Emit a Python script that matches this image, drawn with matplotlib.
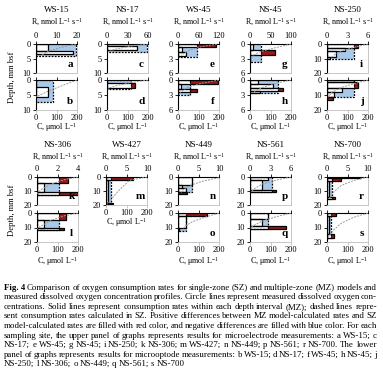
import matplotlib
matplotlib.use('Agg')
import matplotlib.pyplot as plt
from matplotlib.patches import Rectangle

plt.rcParams['font.family'] = ['Liberation Serif', 'DejaVu Serif']
plt.rcParams['mathtext.fontset'] = 'custom'
plt.rcParams['mathtext.rm'] = 'Liberation Serif'
plt.rcParams['mathtext.it'] = 'Liberation Serif:italic'

# sites and panel letters
sites = ['WS-15', 'NS-17', 'WS-45', 'NS-45', 'NS-250',
         'NS-306', 'WS-427', 'NS-449', 'NS-561', 'NS-700']
upper_keys = ['a', 'c', 'e', 'g', 'i', 'k', 'm', 'n', 'p', 'r']
lower_keys = ['b', 'd', 'f', 'h', 'j', 'l', None, 'o', 'q', 's']
r_ticks = [[0, 10, 20], [0, 30, 60], [0, 60, 120], [0, 50, 100], [0, 3, 6],
           [0, 2, 4], [0, 5, 10], [0, 5, 10], [0, 3, 6], [0, 5, 10]]
depth_ticks = [[0, 5, 10], [0, 5, 10], [0, 3, 6], [0, 3, 6], [0, 10, 20],
               [0, 10, 20], [0, 10, 20], [0, 10, 20], [0, 10, 20], [0, 10, 20]]
c_ticks = [0, 100, 200]

# MZ model: depth interval edges (mm) and rate in each interval
mz_edges = {
    'a': [0, 2.3, 3.4], 'b': [0, 2.2, 5.6],
    'c': [0, 0.6, 2.1], 'd': [0, 1.0, 2.5],
    'e': [0, 0.7, 1.6, 2.4], 'f': [0, 0.7, 1.8, 2.4],
    'g': [0, 1.3, 2.2, 3.7], 'h': [0, 0.7, 1.6, 2.2, 2.6],
    'i': [0, 3, 5, 9, 10.5], 'j': [0, 1, 5, 8, 11.5, 13.5],
    'k': [0, 4, 10.5, 12.5], 'l': [0, 5, 10.5, 12],
    'm': [0, 2, 18.5, 19.5],
    'n': [0, 6, 8, 10.5, 12], 'o': [0, 2.3, 10, 12.5],
    'p': [0, 2.3, 9.4, 11], 'q': [0, 4, 8.7, 11],
    'r': [0, 1, 3, 14, 16], 's': [0, 2.4, 14.5, 17],
}
mz_rate = {
    'a': [6, 18], 'b': [0, 6],
    'c': [0, 44], 'd': [0, 41],
    'e': [112, 12, 22], 'f': [118, 10, 55],
    'g': [8, 60, 0], 'h': [20, 55, 80, 25],
    'i': [4.5, 2.7, 1.3, 0.5], 'j': [4.0, 4.5, 2.2, 1.0, 0.9],
    'k': [3.0, 0.7, 4.0], 'l': [2.8, 0.7, 2.6],
    'm': [6.5, 0.4, 1.6],
    'n': [3.3, 1.0, 2.0, 2.1], 'o': [7.0, 2.0, 0.3],
    'p': [2.6, 1.7, 3.8], 'q': [2.6, 1.7, 5.3],
    'r': [8.3, 3.5, 0.4, 2.0], 's': [2.3, 0.5, 1.8],
}
# SZ model: single rate and depth of zone
sz_rate = {'a': 19.5, 'b': 8.5, 'c': 58, 'd': 35, 'e': 55, 'f': 35, 'g': 28, 'h': 68,
           'i': 4.0, 'j': 4.0, 'k': 2.15, 'l': 2.15, 'm': 1.1, 'n': 3.3, 'o': 2.0,
           'p': 3.2, 'q': 2.6, 'r': 1.2, 's': 1.0}
sz_depth = {'a': 4.1, 'b': 7.2, 'c': 2.9, 'd': 3.0, 'e': 2.7, 'f': 2.9, 'g': 3.7, 'h': 2.6,
            'i': 10, 'j': 11.5, 'k': 12.5, 'l': 12, 'm': 19.5, 'n': 10.5, 'o': 12.5,
            'p': 11, 'q': 11, 'r': 16, 's': 17}
# measured O2 profiles
conc_c = {
    'a': [195, 120, 60, 25], 'b': [200, 130, 60, 0],
    'c': [200, 110, 40, 10], 'd': [200, 120, 50, 5],
    'e': [190, 110, 50, 15], 'f': [200, 110, 40, 10],
    'g': [200, 120, 50, 10], 'h': [200, 120, 60, 20],
    'i': [200, 140, 80, 40, 20], 'j': [200, 130, 70, 25, 5],
    'k': [200, 130, 70, 20, 0], 'l': [200, 130, 70, 20, 0],
    'm': [200, 115, 60, 5],
    'n': [200, 120, 60, 25, 15], 'o': [200, 130, 70, 35, 20],
    'p': [200, 120, 60, 25, 5], 'q': [200, 130, 70, 25, 0],
    'r': [200, 130, 70, 30, 10], 's': [200, 130, 70, 30, 8],
}
conc_z = {
    'a': [0, 1.2, 2.5, 4.0], 'b': [0, 1.8, 3.7, 5.6],
    'c': [0, 0.8, 1.8, 2.6], 'd': [0, 0.8, 1.8, 2.8],
    'e': [0, 0.6, 1.4, 2.3], 'f': [0, 0.7, 1.6, 2.5],
    'g': [0, 0.8, 1.6, 2.5], 'h': [0, 0.7, 1.5, 2.3],
    'i': [0, 2, 4.5, 7, 9.5], 'j': [0, 2.5, 5, 8, 11.5],
    'k': [0, 2, 5, 9, 12], 'l': [0, 2, 5, 9, 11],
    'm': [0, 2.3, 10, 19.5],
    'n': [0.5, 3, 6, 9, 11], 'o': [0, 3, 6, 9, 12],
    'p': [0, 2.5, 5, 8, 10.5], 'q': [0, 2.5, 5, 8, 10.5],
    'r': [0, 2.5, 6, 11, 15.5], 's': [0, 3, 7, 12, 16.5],
}

caption_lines = [
    "Fig.\u00a04 Comparison of oxygen consumption rates for single-zone (SZ) and multiple-zone (MZ) models and",
    "measured dissolved oxygen concentration profiles. Circle lines represent measured dissolved oxygen con-",
    "centrations. Solid lines represent consumption rates within each depth interval (MZ); dashed lines repre-",
    "sent consumption rates calculated in SZ. Positive differences between MZ model-calculated rates and SZ",
    "model-calculated rates are filled with red color, and negative differences are filled with blue color. For each",
    "sampling site, the upper panel of graphs represents results for microelectrode measurements: a WS-15; c",
    "NS-17; e WS-45; g NS-45; i NS-250; k NS-306; m WS-427; n NS-449; p NS-561; r NS-700. The lower",
    "panel of graphs represents results for microoptode measurements: b WS-15; d NS-17; f WS-45; h NS-45; j",
    "NS-250; l NS-306; o NS-449; q NS-561; s NS-700",
]

W, H = 383, 370
RED = '#9a1a1a'
BLUE = '#a9c9ea'
GREY = '#bdbdbd'

fig = plt.figure(figsize=(W / 100, H / 100), dpi=100)
fig.patch.set_facecolor('white')


def box(x0, y0, x1, y1):
    return [x0 / W, 1 - y1 / H, (x1 - x0) / W, (y1 - y0) / H]


def ftext(x, y, s, **kw):
    return fig.text(x / W, 1 - y / H, s, **kw)


def draw_panel(ax, key, rt, dt, top_labels, bottom_labels):
    rmax, dmax = rt[-1], dt[-1]
    tw = ax.twiny()
    ax.set_xlim(0, rmax)
    ax.set_ylim(dmax, 0)
    edges, rates = mz_edges[key], mz_rate[key]
    s, D = sz_rate[key], sz_depth[key]
    breaks = sorted(set(edges + [D]))
    for z0, z1 in zip(breaks[:-1], breaks[1:]):
        mid = (z0 + z1) / 2
        mz = 0
        for i in range(len(rates)):
            if edges[i] <= mid < edges[i + 1]:
                mz = rates[i]
        sz = s if mid < D else 0
        if mz > sz:
            ax.barh(mid, mz - sz, height=z1 - z0, left=sz, color=RED, lw=0)
        elif mz < sz:
            ax.barh(mid, sz - mz, height=z1 - z0, left=mz, color=BLUE, lw=0)
    ax.add_patch(Rectangle((0, 0), s, D, fill=False, ec='k', lw=0.9, ls=(0, (1.5, 1))))
    for i in range(len(rates)):
        ax.add_patch(Rectangle((0, edges[i]), rates[i], edges[i + 1] - edges[i],
                               fill=False, ec='k', lw=0.9))

    for side in ['left', 'top']:
        ax.spines[side].set_color('k')
        ax.spines[side].set_linewidth(0.8)
    for side in ['right', 'bottom']:
        ax.spines[side].set_color(GREY)
        ax.spines[side].set_linewidth(0.6)
    ax.set_yticks(dt)
    ax.set_yticklabels([str(v) for v in dt])
    ax.tick_params(axis='y', labelsize=6, length=2, width=0.6, pad=1.5)
    ax.xaxis.set_ticks_position('top')
    ax.set_xticks(rt)
    ax.tick_params(axis='x', labelsize=6, length=2, width=0.6, pad=1,
                   labeltop=top_labels, top=True, bottom=False, labelbottom=False)

    tw.set_xlim(0, 200)
    tw.plot(conc_c[key], conc_z[key], color='#9a9a9a', lw=0.7, ls=(0, (2, 1.2)))
    for sp in tw.spines.values():
        sp.set_visible(False)
    tw.xaxis.set_ticks_position('bottom')
    tw.set_xticks(c_ticks)
    if bottom_labels:
        tw.tick_params(axis='x', labelsize=6, length=2, width=0.6, pad=1,
                       color=GREY, bottom=True, top=False, labelbottom=True, labeltop=False)
    else:
        tw.tick_params(axis='x', bottom=False, top=False, labelbottom=False, labeltop=False)
    ax.text(0.84, 0.3, key, transform=ax.transAxes, fontsize=8, fontweight='bold',
            ha='center', va='center')


col_left = [36, 107, 178, 250, 327, 37, 106, 178, 250, 327]
PW = 41
rows = [
    dict(title=10, rlab=22, up=(44, 73), low=(80, 110), clab=128, depth=77),
    dict(title=145, rlab=157, up=(177, 205), low=(213, 242), clab=262, depth=210),
]

R_LABEL = r'R, nmol L$^{-1}$ s$^{-1}$'
C_LABEL = r'C, μmol L$^{-1}$'

for i, site in enumerate(sites):
    row = rows[i // 5]
    x0 = col_left[i]
    xc = x0 + PW / 2
    ftext(xc, row['title'], site, fontsize=6.5, ha='center', va='center')
    ftext(xc, row['rlab'], R_LABEL, fontsize=5.8, ha='center', va='center')
    single = lower_keys[i] is None
    ax_u = fig.add_axes(box(x0, row['up'][0], x0 + PW, row['up'][1]))
    draw_panel(ax_u, upper_keys[i], r_ticks[i], depth_ticks[i], True, single)
    if single:
        ftext(xc, row['up'][1] + 18, C_LABEL, fontsize=5.8, ha='center', va='center')
    else:
        ax_l = fig.add_axes(box(x0, row['low'][0], x0 + PW, row['low'][1]))
        draw_panel(ax_l, lower_keys[i], r_ticks[i], depth_ticks[i], False, True)
        ftext(xc, row['clab'], C_LABEL, fontsize=5.8, ha='center', va='center')
    if i % 5 == 0:
        ftext(12, row['depth'], 'Depth, mm bsf', fontsize=6.2, rotation=90,
              ha='center', va='center')

# justified caption, words placed on a common baseline
renderer = fig.canvas.get_renderer()
cap_x0, cap_x1 = 4, 377
cap_y0, cap_dy = 289.5, 9.6
for n, line in enumerate(caption_lines):
    words = line.split(' ')
    objs = []
    for k, wd in enumerate(words):
        bold = (n == 0 and k == 0)
        objs.append(ftext(0, cap_y0 + n * cap_dy, wd, fontsize=6.4, va='baseline', ha='left',
                          fontweight='bold' if bold else 'normal'))
    widths = [o.get_window_extent(renderer).width for o in objs]
    if n < len(caption_lines) - 1:
        gap = (cap_x1 - cap_x0 - sum(widths)) / (len(words) - 1)
    else:
        gap = 2.0
    x = cap_x0
    for o, wdt in zip(objs, widths):
        o.set_x(x / W)
        x += wdt + gap

fig.savefig('out.png', dpi=100, facecolor='white')
